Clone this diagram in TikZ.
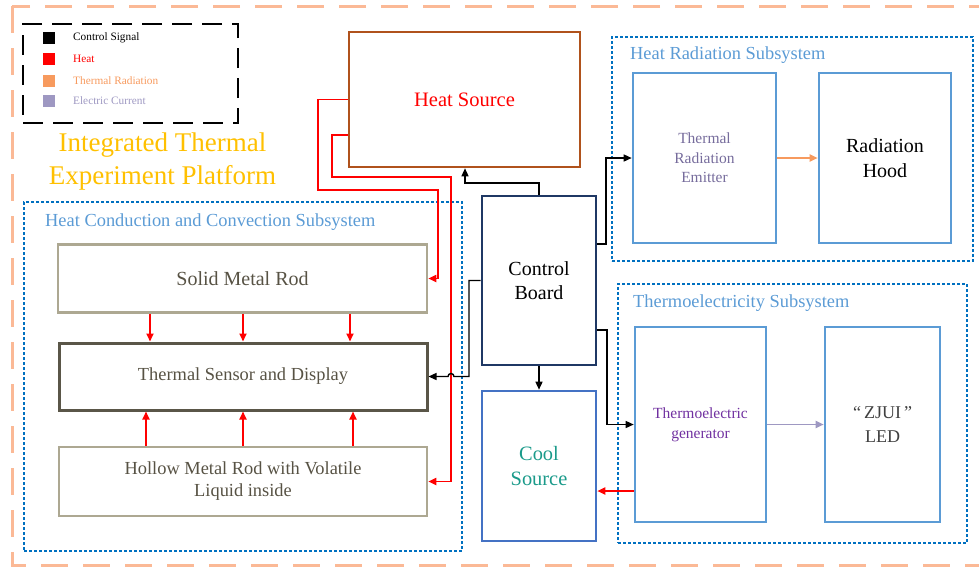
\documentclass[tikz,border=0pt]{standalone}
\usepackage{fontspec}
\setmainfont{Liberation Serif}
\usetikzlibrary{arrows.meta}
\definecolor{framepeach}{HTML}{FBB996}
\definecolor{gold}{HTML}{FFC000}
\definecolor{subblue}{HTML}{0070C0}
\definecolor{titleblue}{HTML}{5B9BD5}
\definecolor{boxblue}{HTML}{5B9BD5}
\definecolor{coolblue}{HTML}{4472C4}
\definecolor{navy}{HTML}{1F3864}
\definecolor{rust}{HTML}{B0521C}
\definecolor{rodgray}{HTML}{ADA892}
\definecolor{sensgray}{HTML}{5A5648}
\definecolor{rodtext}{HTML}{575244}
\definecolor{radorange}{HTML}{F79A5E}
\definecolor{elecpurple}{HTML}{9E98C2}
\definecolor{emittext}{HTML}{766C9C}
\definecolor{tegpurple}{HTML}{7030A0}
\definecolor{teal}{HTML}{1A9A8A}
\newcommand{\sizept}[2]{\fontsize{#1}{#2}\selectfont}
\tikzset{
  blk/.style={draw, rectangle, inner sep=0pt, align=center},          % block
  sub/.style={draw=subblue, line width=2pt, dash pattern=on 3pt off 2pt,
              rectangle, inner sep=0pt},                             % subsystem frame
  ttl/.style={anchor=west, inner sep=0pt, text=titleblue, font=\sizept{18.4}{22}},
  sq/.style={rectangle, minimum size=12pt, inner sep=0pt},            % legend square
  ctrl/.style={draw=black, line width=1.4pt, -{Triangle[length=8pt,width=7pt]}},   % control signal
  heat/.style={draw=red, line width=1.8pt, -{Triangle[length=8pt,width=7pt]}},     % heat
  rad/.style={draw=radorange, line width=1.8pt, -{Triangle[length=8pt,width=7pt]}}, % thermal radiation
  elec/.style={draw=elecpurple, line width=1.8pt, -{Triangle[length=8pt,width=7pt]}},% electric current
}
\begin{document}
\begin{tikzpicture}[x=1pt, y=-1pt]
  \useasboundingbox (0,0) rectangle (979,566);
  \draw[framepeach, line width=3pt, dash pattern=on 27pt off 15pt] (12,6) rectangle (995,565);
  % legend
  \node[draw=black, line width=2.4pt, dash pattern=on 20pt off 10pt, rectangle,
        minimum width=215pt, minimum height=99pt] (key) at (130.5,73.5) {};
  \foreach \y/\c/\t/\n in {38/black/Control Signal/c, 59/red/Heat/h,
      81/radorange/Thermal Radiation/r, 101/elecpurple/Electric Current/e} {
    \node[sq, fill=\c] (k\n) at (49,\y) {};
    \node[anchor=west, inner sep=0pt, text=\c, font=\sizept{11.3}{13}] (t\n) at (73,\y) {\t};
  }
  \node[text=gold, align=center, font=\sizept{27}{33}] (plat) at (162.5,161)
    {Integrated Thermal\\Experiment Platform};
  % subsystem frames
  \node[sub, minimum width=438pt, minimum height=349pt] (hcc) at (243,376.5) {};
  \node[sub, minimum width=361pt, minimum height=224pt] (hrs) at (792.5,149) {};
  \node[sub, minimum width=349pt, minimum height=259pt] (tes) at (792.5,413.5) {};
  \node[ttl] (hcct) at (45,222) {Heat Conduction and Convection Subsystem};
  \node[ttl] (hrst) at (630,55) {Heat Radiation Subsystem};
  \node[ttl] (test) at (633,303) {Thermoelectricity Subsystem};
  % blocks
  \node[blk, draw=rust, line width=2.6pt, minimum width=231pt, minimum height=135pt,
        text=red, font=\sizept{20.5}{24}] (hs) at (464.5,99.5) {Heat Source};
  \node[blk, draw=navy, line width=2.6pt, minimum width=114pt, minimum height=169pt,
        font=\sizept{20}{24}] (cb) at (539,280.5) {Control\\Board};
  \node[blk, draw=coolblue, line width=2.6pt, minimum width=114pt, minimum height=150pt,
        text=teal, font=\sizept{20.4}{25}] (cs) at (539,466) {Cool\\Source};
  \node[blk, draw=rodgray, line width=2.6pt, minimum width=369pt, minimum height=68pt,
        text=rodtext, font=\sizept{20}{22}] (smr) at (242.5,278.5) {Solid Metal Rod};
  \node[blk, draw=sensgray, line width=3pt, minimum width=368pt, minimum height=67pt,
        text=rodtext, font=\sizept{18.4}{22}] (tsd) at (243,376.5) {Thermal Sensor and Display};
  \node[blk, draw=rodgray, line width=2.6pt, minimum width=368pt, minimum height=69pt,
        text=rodtext, font=\sizept{18.4}{22}] (hmr) at (243,481.5)
        {Hollow Metal Rod with Volatile\\Liquid inside};
  \node[blk, draw=boxblue, line width=2.6pt, minimum width=143pt, minimum height=170pt,
        text=emittext, font=\sizept{15.5}{19.5}] (tre) at (704.5,158) {Thermal\\Radiation\\Emitter};
  \node[blk, draw=boxblue, line width=2.6pt, minimum width=132pt, minimum height=170pt,
        font=\sizept{20}{25}] (rh) at (885,158) {Radiation\\Hood};
  \node[blk, draw=boxblue, line width=2.6pt, minimum width=131pt, minimum height=195pt,
        text=tegpurple, font=\sizept{15.5}{20}] (teg) at (700.5,424.5) {Thermoelectric\\generator};
  \node[blk, draw=boxblue, line width=2.6pt, minimum width=115pt, minimum height=195pt,
        text=black!75, font=\sizept{18}{24}] (led) at (882.5,424.5) {“\,ZJUI\,”\\LED};
  % heat
  \draw[heat] (hs.west) -| (318,190) -- (438,190) |- (smr.east);
  \draw[heat] (hs.west |- 0,135) -| (332,177) -- (451,177) |- (hmr.east);
  \foreach \x in {150,243,350} \draw[heat] (smr.south -| \x,0) -- (tsd.north -| \x,0);
  \foreach \x in {146,243,353} \draw[heat] (hmr.north -| \x,0) -- (tsd.south -| \x,0);
  \draw[heat] (teg.west |- 0,491) -- (cs.east |- 0,491);
  % control
  \draw[ctrl] (cb.north) |- (465,183) -- (hs.south -| 465,0);
  \draw[ctrl] (cb.west) -- (469,280.5) -- (469,376.5) -- (454,376.5) arc (0:-180:3)
    -- (tsd.east);
  \draw[ctrl] (cb.south) -- (cs.north);
  \draw[ctrl] (cb.east |- 0,244) -| (606,158) -- (tre.west);
  \draw[ctrl] (cb.east |- 0,330) -| (607,424.5) -- (teg.west);
  % radiation and current
  \draw[rad] (tre.east) -- (rh.west);
  \draw[elec] (teg.east) -- (led.west);
\end{tikzpicture}
\end{document}
